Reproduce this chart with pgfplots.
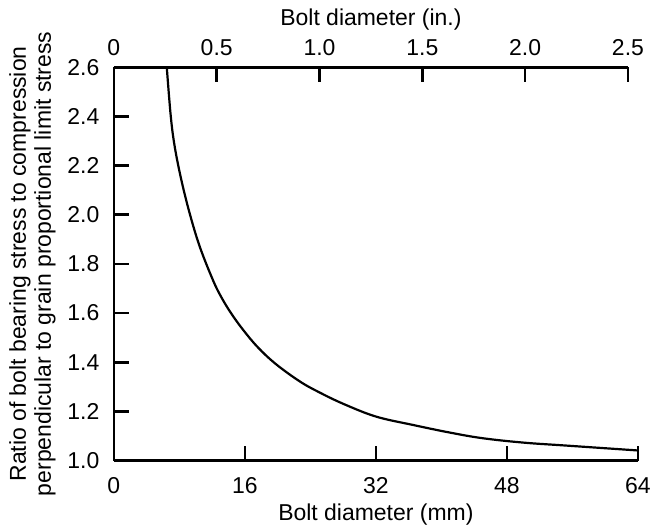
\documentclass[border=0pt]{standalone}
\usepackage{fontspec}
\setmainfont{Liberation Sans}
\usepackage{pgfplots}
\pgfplotsset{compat=1.18}
\begin{document}
\begin{tikzpicture}
\pgfplotsset{
  common/.style={
    scale only axis,
    height=394bp,
    ymin=1, ymax=2.6,
    axis line style={-, line width=2.6bp},
    tick align=inside,
    major tick length=15bp,
    every tick/.style={black, line width=2.6bp},
    font=\fontsize{23bp}{26bp}\selectfont,
    /pgf/number format/assume math mode=true,
  }
}
\begin{axis}[
  common,
  width=525bp,
  xmin=0, xmax=64,
  axis x line*=bottom, axis y line*=left,
  xtick={0,16,32,48,64},
  ytick={1.0,1.2,1.4,1.6,1.8,2.0,2.2,2.4,2.6},
  yticklabel style={xshift=-11bp, /pgf/number format/.cd, fixed, fixed zerofill, precision=1},
  xticklabel style={yshift=-13bp},
  xlabel={Bolt diameter (mm)},
  ylabel={Ratio of bolt bearing stress to compression\\perpendicular to grain proportional limit stress},
  ylabel style={align=center, font=\fontsize{23bp}{25bp}\selectfont, yshift=5bp},
  xlabel style={yshift=-4bp},
  clip=false,
]
\addplot[black, line width=2.2bp, smooth, tension=0.6] coordinates {
(6.46,2.6)
(6.95,2.4)
(7.44,2.275)
(8.25,2.14)
(9.27,2.004)
(10.5,1.869)
(12.1,1.734)
(13.1,1.666)
(14.3,1.600)
(15.8,1.531)
(17.6,1.460)
(19.8,1.392)
(22.7,1.322)
(25.0,1.279)
(28.0,1.231)
(32.0,1.179)
(36.5,1.145)
(41.0,1.114)
(45.0,1.091)
(50.0,1.073)
(55.2,1.061)
(64.0,1.041)
};
\end{axis}
\begin{axis}[
  common,
  width=515bp,
  xmin=0, xmax=2.5,
  axis x line*=top, axis y line=none,
  ytick=\empty,
  xtick={0,0.5,1.0,1.5,2.0,2.5},
  xticklabels={0,0.5,1.0,1.5,2.0,2.5},
  xticklabel style={yshift=8bp},
  xlabel={Bolt diameter (in.)},
  xlabel style={yshift=2bp},
]
\end{axis}
\path ([xshift=-6bp, yshift=6bp]current bounding box.north west);
\end{tikzpicture}
\end{document}
